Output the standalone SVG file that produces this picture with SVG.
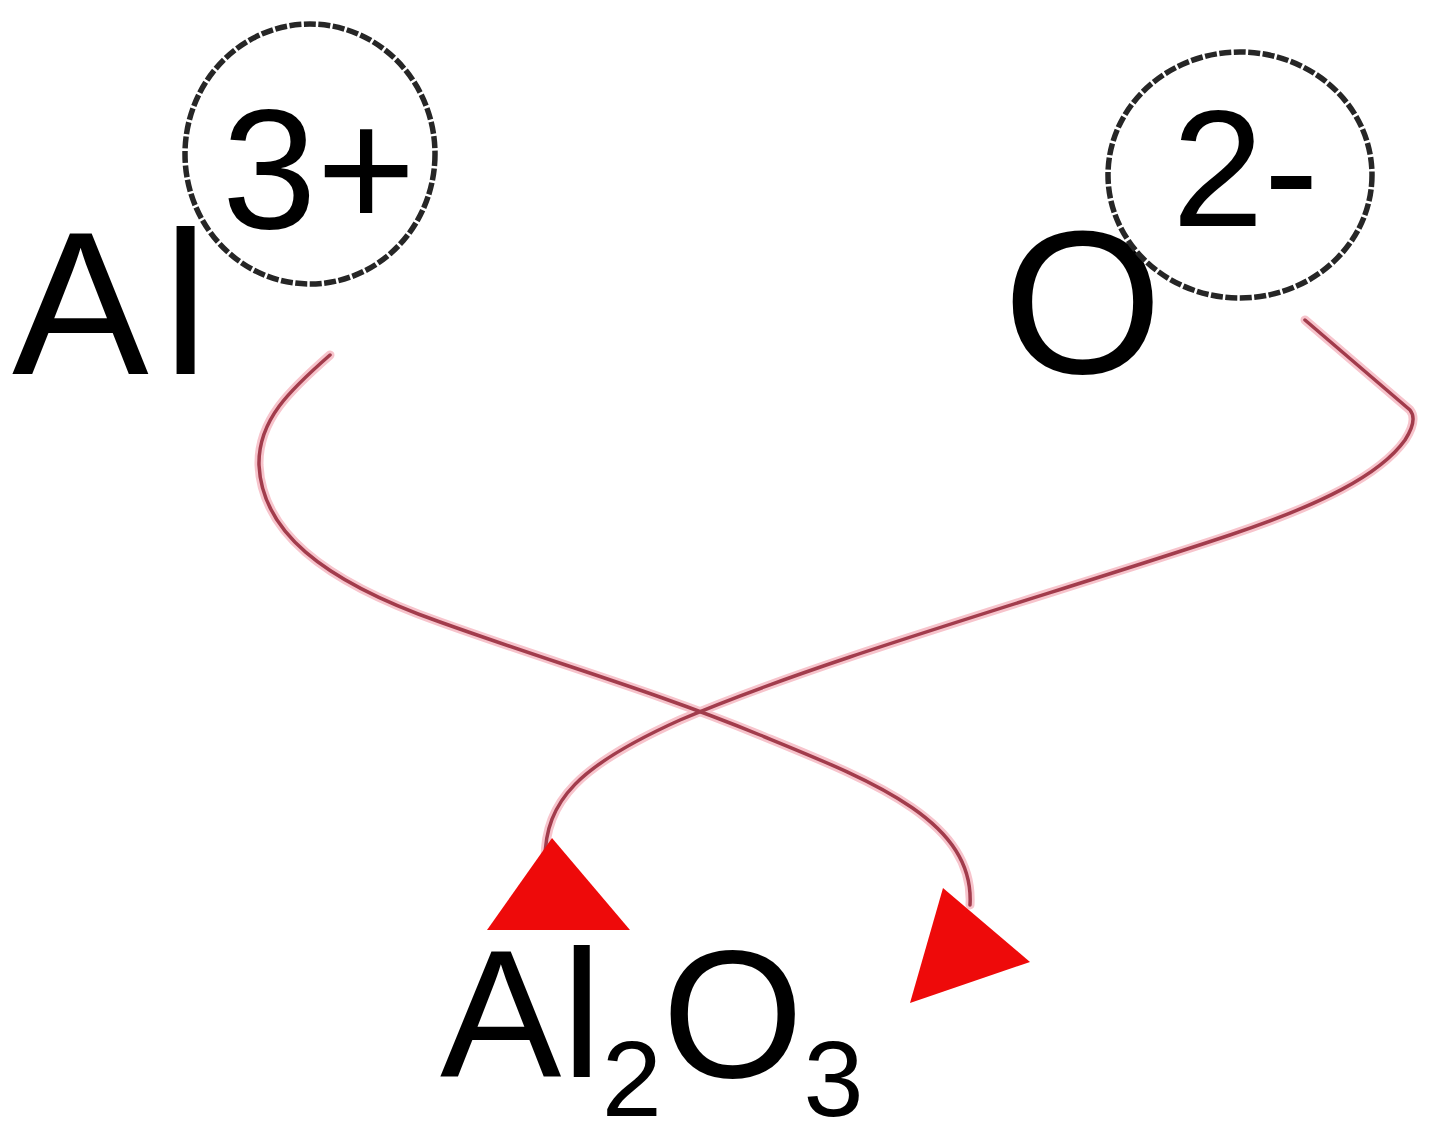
<svg xmlns="http://www.w3.org/2000/svg" width="1440" height="1139" viewBox="0 0 1440 1139">
<style>
.t{font-family:"Liberation Sans",Arial,sans-serif;fill:#000}
.ring{fill:none;stroke:#262626;stroke-width:5.5;stroke-dasharray:12 2.5}
.halo{fill:none;stroke:#f7c4cc;stroke-width:9;stroke-linecap:round;stroke-linejoin:round}
.c{fill:none;stroke:#a23c4c;stroke-width:3.5;stroke-linecap:round;stroke-linejoin:round}
.ah{fill:#ee0a0a}
</style>
<rect width="1440" height="1139" fill="#fff"/>
<g id="al-ion">
<text class="t" x="12" y="374" font-size="205">A<tspan dx="14">l</tspan></text>
<ellipse class="ring" cx="310" cy="154" rx="125" ry="130"/>
<text class="t" x="222" y="228" font-size="170">3+</text>
</g>
<g id="o-ion">
<text class="t" x="1003" y="373" font-size="205">O</text>
<ellipse class="ring" cx="1240" cy="175" rx="132" ry="123"/>
<text class="t" x="1172" y="226" font-size="165">2-</text>
</g>
<g id="al2o3">
<text class="t" x="440" y="1077" font-size="182">Al<tspan font-size="108" y="1116">2</tspan><tspan y="1077">O</tspan><tspan font-size="108" y="1116">3</tspan></text>
</g>
<g id="connectors">
<path class="halo" d="M330,355 C290,390 258,420 259,465 C262,530 320,580 440,622 C560,665 650,690 760,735 C870,780 975,820 970,905"/>
<path class="halo" d="M1305,320 L1410,410 Q1418,420 1405,440 C1380,475 1320,505 1230,535 C1050,595 820,660 680,720 C580,765 545,800 545,860"/>
<path class="c" d="M330,355 C290,390 258,420 259,465 C262,530 320,580 440,622 C560,665 650,690 760,735 C870,780 975,820 970,905"/>
<polygon class="ah" points="910,1003 1030,962 943,888"/>
<path class="c" d="M1305,320 L1410,410 Q1418,420 1405,440 C1380,475 1320,505 1230,535 C1050,595 820,660 680,720 C580,765 545,800 545,860"/>
<polygon class="ah" points="487,930 630,930 552,838"/>
</g>
</svg>
